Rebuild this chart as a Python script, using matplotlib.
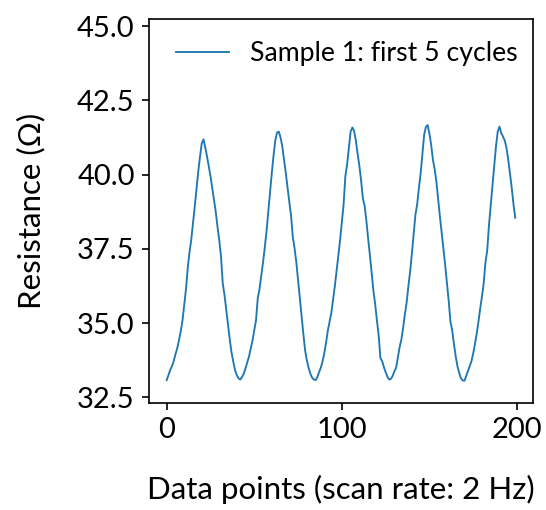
import numpy as np
import matplotlib
matplotlib.use("Agg")
import matplotlib.pyplot as plt

plt.rcParams['font.family'] = ['Lato', 'DejaVu Sans']

# Resistance readings, first 5 loading cycles of sample 1
resistance = [
    33.08, 33.25, 33.42, 33.55, 33.72, 33.95, 34.15, 34.42, 34.72, 35.08,
    35.62, 36.14, 36.85, 37.38, 37.80, 38.35, 38.92, 39.50, 40.10, 40.60,
    41.05, 41.19, 40.92, 40.62, 40.28, 39.95, 39.55, 39.15, 38.75, 38.25,
    37.80, 37.25, 36.34, 35.95, 35.45, 34.98, 34.45, 34.02, 33.70, 33.42,
    33.25, 33.14, 33.10, 33.18, 33.30, 33.48, 33.68, 33.88, 34.15, 34.42,
    34.75, 35.10, 35.85, 36.15, 36.60, 37.05, 37.55, 38.10, 38.75, 39.38,
    40.05, 40.65, 41.15, 41.42, 41.45, 41.25, 40.95, 40.50, 40.05, 39.55,
    39.08, 38.62, 37.90, 37.52, 37.05, 36.45, 35.85, 35.25, 34.65, 34.09,
    33.75, 33.50, 33.30, 33.17, 33.10, 33.08, 33.18, 33.35, 33.50, 33.72,
    34.00, 34.35, 34.75, 35.05, 35.35, 35.80, 36.25, 36.75, 37.28, 37.80,
    38.40, 39.00, 39.95, 40.35, 40.90, 41.45, 41.59, 41.47, 41.15, 40.70,
    40.30, 39.80, 39.20, 38.95, 38.45, 37.85, 37.30, 36.70, 36.10, 35.65,
    35.10, 34.60, 33.82, 33.72, 33.52, 33.35, 33.20, 33.10, 33.12, 33.22,
    33.38, 33.50, 33.85, 34.20, 34.45, 34.85, 35.30, 35.70, 36.25, 36.75,
    37.35, 38.00, 38.65, 39.00, 39.55, 40.05, 40.70, 41.35, 41.61, 41.67,
    41.38, 41.00, 40.50, 40.18, 39.75, 39.15, 38.58, 38.05, 37.50, 36.95,
    36.35, 35.75, 35.05, 34.75, 34.30, 33.88, 33.55, 33.32, 33.14, 33.07,
    33.06, 33.22, 33.38, 33.55, 33.72, 33.98, 34.30, 34.65, 35.05, 35.50,
    35.90, 36.35, 37.05, 37.45, 38.30, 38.98, 39.65, 40.30, 40.95, 41.45,
    41.62, 41.40, 41.28, 41.15, 40.90, 40.50, 40.04, 39.55, 39.00, 38.55,
]
points = np.arange(len(resistance))
y_ticks = [32.5, 35.0, 37.5, 40.0, 42.5, 45.0]
x_ticks = [0, 100, 200]

fig = plt.figure(figsize=(3.64, 3.4), dpi=150)
ax = fig.add_axes([0.2734, 0.2104, 0.7022, 0.7516])

ax.plot(points, resistance, color='#1f77b4', linewidth=0.9,
        label='Sample 1: first 5 cycles')

ax.set_ylim(32.32, 45.23)
ax.set_yticks(y_ticks)
ax.set_yticklabels([f'{t:.1f}' for t in y_ticks])
ax.set_xticks(x_ticks)
ax.tick_params(labelsize=14)

ax.set_xlabel('Data points (scan rate: 2 Hz)', fontsize=15, labelpad=15)
ax.set_ylabel('Resistance (Ω)', fontsize=15, labelpad=15)
ax.legend(loc='upper right', frameon=False, fontsize=12.8,
          bbox_to_anchor=(1.01, 0.992), borderaxespad=0.3)

fig.savefig('out.png', dpi=150)
